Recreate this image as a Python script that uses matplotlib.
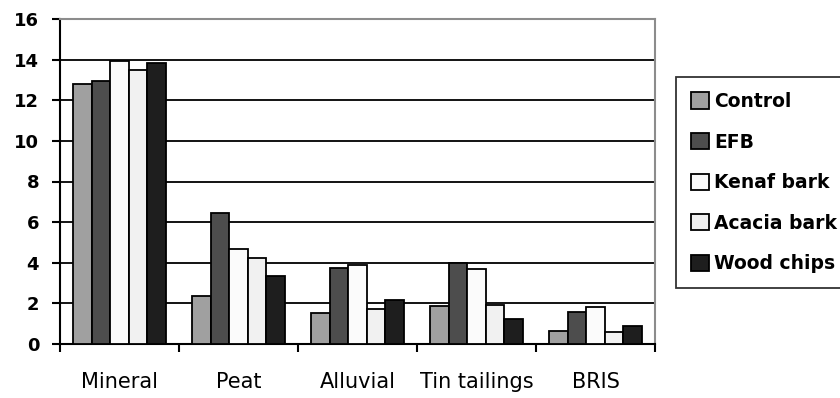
import numpy as np
import matplotlib.pyplot as plt

# Data
categories = ["Mineral", "Peat", "Alluvial", "Tin tailings", "BRIS"]
series_names = ["Control", "EFB", "Kenaf bark", "Acacia bark", "Wood chips"]
control = [12.82, 2.35, 1.53, 1.86, 0.66]
efb = [12.97, 6.47, 3.74, 3.98, 1.56]
kenaf_bark = [13.94, 4.66, 3.87, 3.70, 1.84]
acacia_bark = [13.48, 4.22, 1.74, 1.94, 0.58]
wood_chips = [13.85, 3.35, 2.18, 1.23, 0.87]
yticks = [0, 2, 4, 6, 8, 10, 12, 14, 16]

series = [control, efb, kenaf_bark, acacia_bark, wood_chips]
colors = ["#a0a0a0", "#4d4d4d", "#fbfbfb", "#f1f1f1", "#1e1e1e"]

fig = plt.figure(figsize=(8.4, 3.98), dpi=100)
ax = fig.add_axes([60 / 840, 54 / 398, 595 / 840, 325 / 398])

x = np.arange(len(categories))
nbars = len(series)
bar_w = 0.78 / nbars
offsets = (np.arange(nbars) - (nbars - 1) / 2.0) * bar_w

for i in range(nbars):
    ax.bar(x + offsets[i], series[i], width=bar_w, color=colors[i],
           edgecolor="black", linewidth=1.3, label=series_names[i], zorder=3)

# gridlines
ax.set_ylim(0, 16)
ax.set_xlim(-0.5, len(categories) - 0.5)
ax.set_yticks(yticks)
ax.yaxis.grid(True, color="black", linewidth=1.3, zorder=0)
ax.set_axisbelow(True)

for side in ["top", "right"]:
    ax.spines[side].set_color("#8c8c8c")
    ax.spines[side].set_linewidth(1.5)
for side in ["left", "bottom"]:
    ax.spines[side].set_color("black")
    ax.spines[side].set_linewidth(1.5)

ax.tick_params(axis="y", direction="out", length=6, width=1.5, pad=9)
for lab in ax.get_yticklabels():
    lab.set_fontweight("bold")
    lab.set_fontsize(13)

ax.set_xticks(x)
ax.set_xticklabels(categories, fontsize=15)
ax.set_xticks(np.arange(-0.5, len(categories)), minor=True)
ax.tick_params(axis="x", which="major", length=0, pad=20)
ax.tick_params(axis="x", which="minor", direction="out", length=6, width=1.5)

leg = ax.legend(loc="upper left", bbox_to_anchor=(676 / 840, 1 - 77 / 398),
                bbox_transform=fig.transFigure, frameon=True, fancybox=False,
                edgecolor="black", borderaxespad=0, handlelength=0.95,
                handleheight=0.95, handletextpad=0.3, labelspacing=1.15,
                borderpad=0.8, prop={"weight": "bold", "size": 13.5})
leg.get_frame().set_linewidth(1.3)

plt.savefig("out.png", dpi=100)
